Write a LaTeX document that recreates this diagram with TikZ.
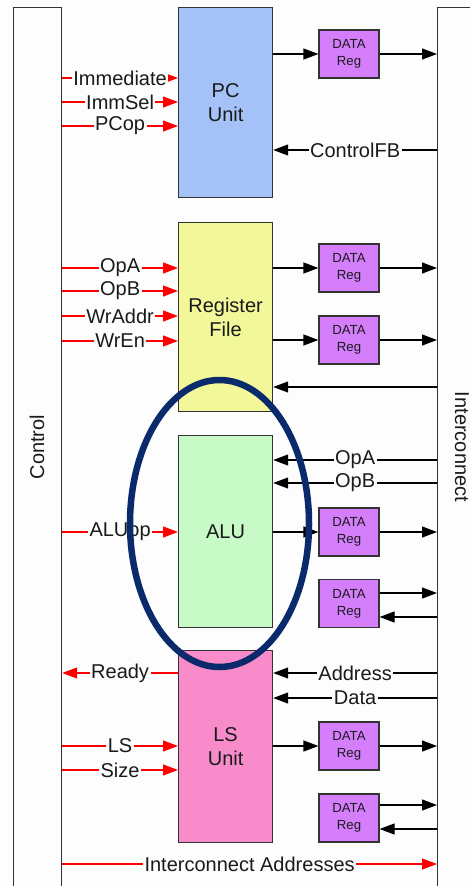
\documentclass[tikz,border=0pt]{standalone}
\usepackage{fontspec}
\setmainfont{Liberation Sans}
\usetikzlibrary{arrows.meta}
\definecolor{pcblue}{HTML}{A4C2F8}
\definecolor{rfyellow}{HTML}{F2F799}
\definecolor{alugreen}{HTML}{C8FAC8}
\definecolor{lspink}{HTML}{F88CCB}
\definecolor{regpurple}{HTML}{D47EFC}
\definecolor{navyring}{HTML}{0A2A6C}
\definecolor{edgegray}{HTML}{333333}
\definecolor{txt}{HTML}{1A1A1A}
\definecolor{bg}{HTML}{FDFDFD}
\definecolor{ctlred}{HTML}{FF0000}
\begin{document}
\begin{tikzpicture}[x=1pt,y=-1pt,
  unitbox/.style={draw=edgegray, line width=1.2pt, minimum width=94pt, inner sep=0pt, text=txt, font=\fontsize{20}{24}\selectfont, align=center, anchor=north west},
  regbox/.style={draw=edgegray, line width=1.2pt, fill=regpurple, minimum width=60pt, minimum height=48pt, inner sep=0pt, font=\fontsize{13.2}{17}\selectfont, align=center, text=txt},
  barbox/.style={draw=edgegray, line width=1.2pt, fill=bg, inner sep=0pt, minimum height=950pt, anchor=north west},
  blk/.style={draw=black, line width=1.2pt, -{Triangle[length=15pt,width=11pt]}},
  ctl/.style={draw=ctlred, line width=1.2pt, -{Triangle[length=15pt,width=11pt]}},
  lbl/.style={fill=bg, inner sep=1.5pt, text=txt, font=\fontsize{20}{22}\selectfont},
  bartext/.style={text=txt, font=\fontsize{20}{22}\selectfont}]
\path[use as bounding box, clip] (0,0) rectangle (470,886);
\fill[bg] (0,0) rectangle (470,886);
% bars
\node[barbox, minimum width=48pt] (ctrl) at (13,7) {};
\node[barbox, minimum width=80pt] (ic) at (437,7) {};
\node[bartext, rotate=90] (ctrltxt) at (37,447) {Control};
\node[bartext, rotate=-90] (ictxt) at (462,447) {Interconnect};
% units
\node[unitbox, fill=pcblue, minimum height=190pt] (pc) at (178,7) {PC\\Unit};
\node[unitbox, fill=rfyellow, minimum height=189pt] (rf) at (178,222) {Register\\File};
\node[unitbox, fill=alugreen, minimum height=192pt] (alu) at (178,435) {ALU};
\node[unitbox, fill=lspink, minimum height=192pt] (ls) at (178,650) {LS\\Unit};
% data registers
\node[regbox] (dr1) at (349,54) {DATA\\Reg};
\node[regbox] (dr2) at (349,268) {DATA\\Reg};
\node[regbox] (dr3) at (349,340) {DATA\\Reg};
\node[regbox] (dr4) at (349,532) {DATA\\Reg};
\node[regbox] (dr5) at (349,603.5) {DATA\\Reg};
\node[regbox] (dr6) at (349,746) {DATA\\Reg};
\node[regbox] (dr7) at (349,818) {DATA\\Reg};
% PC unit
\draw[ctl] (ctrl.east |- 0,78) -- (pc.west |- 0,78) node[lbl, midway] {Immediate};
\draw[ctl] (ctrl.east |- 0,102) -- (pc.west |- 0,102) node[lbl, midway] {ImmSel};
\draw[ctl] (ctrl.east |- 0,126) -- (pc.west |- 0,126) node[lbl, midway] {PCop};
\draw[blk] (pc.east |- dr1.west) -- (dr1.west);
\draw[blk] (dr1.east) -- (dr1.east -| ic.west);
\draw[blk] (ic.west |- 0,150) -- (pc.east |- 0,150) node[lbl, midway] {ControlFB};
% register file
\draw[ctl] (ctrl.east |- 0,268) -- (rf.west |- 0,268) node[lbl, midway] {OpA};
\draw[ctl] (ctrl.east |- 0,291) -- (rf.west |- 0,291) node[lbl, midway] {OpB};
\draw[ctl] (ctrl.east |- 0,316) -- (rf.west |- 0,316) node[lbl, midway] {WrAddr};
\draw[ctl] (ctrl.east |- 0,341) -- (rf.west |- 0,341) node[lbl, midway] {WrEn};
\draw[blk] (rf.east |- dr2.west) -- (dr2.west);
\draw[blk] (dr2.east) -- (dr2.east -| ic.west);
\draw[blk] (rf.east |- dr3.west) -- (dr3.west);
\draw[blk] (dr3.east) -- (dr3.east -| ic.west);
\draw[blk] (ic.west |- 0,387) -- (rf.east |- 0,387);
% ALU
\draw[ctl] (ctrl.east |- 0,532) -- (alu.west |- 0,532) node[lbl, midway] {ALUop};
\draw[blk] (ic.west |- 0,460) -- (alu.east |- 0,460) node[lbl, midway] {OpA};
\draw[blk] (ic.west |- 0,483) -- (alu.east |- 0,483) node[lbl, midway] {OpB};
\draw[blk] (alu.east |- dr4.west) -- (dr4.west);
\draw[blk] (dr4.east) -- (dr4.east -| ic.west);
\draw[blk] (dr5.east |- 0,593) -- (ic.west |- 0,593);
\draw[blk] (ic.west |- 0,617) -- (dr5.east |- 0,617);
% LS unit
\draw[ctl] (ls.west |- 0,673) -- (ctrl.east |- 0,673) node[lbl, midway] {Ready};
\draw[blk] (ic.west |- 0,673) -- (ls.east |- 0,673) node[lbl, midway] {Address};
\draw[blk] (ic.west |- 0,698) -- (ls.east |- 0,698) node[lbl, midway] {Data};
\draw[ctl] (ctrl.east |- 0,746) -- (ls.west |- 0,746) node[lbl, midway] {LS};
\draw[ctl] (ctrl.east |- 0,770) -- (ls.west |- 0,770) node[lbl, midway] {Size};
\draw[blk] (ls.east |- dr6.west) -- (dr6.west);
\draw[blk] (dr6.east) -- (dr6.east -| ic.west);
\draw[blk] (dr7.east |- 0,805) -- (ic.west |- 0,805);
\draw[blk] (ic.west |- 0,829) -- (dr7.east |- 0,829);
% interconnect addresses
\draw[ctl] (ctrl.east |- 0,864) -- (ic.west |- 0,864) node[lbl, midway] {Interconnect Addresses};
% highlight ring
\draw[navyring, line width=6.5pt] (219.5,523.5) ellipse [x radius=89.5pt, y radius=143.5pt];
\end{tikzpicture}
\end{document}
